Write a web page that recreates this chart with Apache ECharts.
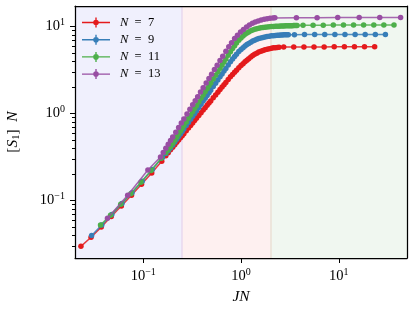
<!DOCTYPE html>
<html><head><meta charset="utf-8">
<script src="https://cdn.jsdelivr.net/npm/echarts@6/dist/echarts.min.js"></script>
<style>html,body{margin:0;padding:0;background:#fff}#c{width:415px;height:312px}</style>
</head><body><div id="c"></div><script>
// ---------- data ----------
const seriesNames = ['N = 7', 'N = 9', 'N = 11', 'N = 13'];
const seriesColors = ['#e41a1c', '#377eb8', '#4daf4a', '#984ea3'];

// shared dense JN grid (N = 7, 9, 11 use the first len(y) entries)
const denseJN = [0.17,0.18,0.19,0.20,0.21,0.22,0.23,0.24,0.25,0.26,0.275,0.29,0.305,0.32,0.335,0.35,
  0.37,0.39,0.41,0.43,0.45,0.47,0.49,0.52,0.55,0.58,0.61,0.64,0.67,0.70,0.74,0.78,0.82,0.86,0.90,
  0.95,1.0,1.05,1.1,1.15,1.2,1.26,1.32,1.38,1.45,1.52,1.6,1.68,1.76,1.85,1.95,2.05,2.15,2.25,2.35,2.45,
  2.55,2.65,2.75,2.85,2.95,3.05,3.15,3.25,3.35,3.45,3.55,3.65,3.75];

// N = 7
const n7LowX = [0.0230,0.0292,0.0371,0.0470,0.0596,0.0757,0.0959,0.122,0.1545];
const n7LowY = [0.0297,0.0378,0.0494,0.0653,0.0865,0.115,0.154,0.207,0.282];
const n7DenseY = [0.327,0.354,0.382,0.409,0.437,0.466,0.496,0.525,0.555,0.586,0.632,0.679,0.728,0.778,0.829,0.880,
  0.948,1.021,1.094,1.166,1.242,1.318,1.395,1.514,1.633,1.757,1.883,2.012,2.143,2.275,2.455,2.636,2.81,2.98,3.15,
  3.36,3.55,3.74,3.93,4.10,4.26,4.46,4.63,4.79,4.94,5.08,5.20,5.31,5.40,5.48,5.56,5.62,5.68,5.71,5.75,5.78];
const n7TailX = [2.735,3.467,4.406,5.585,7.096,8.995,11.43,14.49,18.37,23.33];
const n7TailY = [5.80,5.81,5.82,5.82,5.82,5.83,5.83,5.83,5.83,5.83];

// N = 9
const n9LowX = [0.0296,0.0376,0.0476,0.0605,0.0767,0.0975,0.1236,0.157];
const n9LowY = [0.0396,0.0522,0.0691,0.0920,0.1223,0.166,0.2262,0.3126];
const n9DenseY = [0.347,0.373,0.401,0.434,0.469,0.505,0.544,0.582,0.622,0.663,0.725,0.790,0.858,0.928,1.000,1.073,
  1.174,1.279,1.388,1.496,1.612,1.729,1.850,2.038,2.229,2.429,2.636,2.851,3.072,3.298,3.606,3.926,4.236,4.523,4.809,
  5.144,5.439,5.709,5.955,6.190,6.392,6.609,6.803,6.963,7.120,7.259,7.386,7.490,7.580,7.657,7.727,7.80,7.85,7.89,7.92,7.95,
  7.97,7.99,8.01,8.02,8.03,8.04];
const n9TailX = [3.524,4.467,5.675,7.194,9.141,11.59,14.72,18.66,23.71,30.06];
const n9TailY = [8.06,8.07,8.08,8.08,8.09,8.09,8.09,8.10,8.10,8.10];

// N = 11
const n11LowX = [0.0365,0.0462,0.0587,0.0745,0.0946,0.120,0.1524];
const n11LowY = [0.0522,0.0678,0.0902,0.1198,0.1622,0.2208,0.3062];
const n11DenseY = [0.357,0.386,0.417,0.455,0.495,0.538,0.584,0.628,0.676,0.725,0.800,0.879,0.962,1.049,1.138,1.230,
  1.357,1.492,1.632,1.772,1.923,2.079,2.238,2.490,2.748,3.019,3.304,3.601,3.908,4.226,4.662,5.124,5.588,6.021,6.452,
  6.955,7.391,7.780,8.121,8.426,8.669,8.913,9.127,9.288,9.437,9.561,9.667,9.752,9.825,9.881,9.933,9.977,10.01,10.04,10.07,10.09,
  10.12,10.13,10.15,10.17,10.18,10.20,10.21,10.22,10.23,10.24,10.26,10.26,10.27];
const n11TailX = [4.315,5.470,6.950,8.810,11.19,14.19,17.99,22.86,28.97,36.81];
const n11TailY = [10.33,10.35,10.36,10.37,10.37,10.38,10.38,10.38,10.39,10.39];

// N = 13
const n13LowX = [0.0430,0.0692,0.1114];
const n13LowY = [0.0625,0.1148,0.224];
const n13DenseX = [0.15,0.16,0.17,0.18,0.19,0.20,0.215,0.23,0.245,0.26,0.28,0.30,0.32,0.34,0.36,0.385,0.41,0.44,0.47,0.50,
  0.535,0.57,0.61,0.65,0.70,0.75,0.80,0.86,0.92,0.99,1.06,1.14,1.22,1.31,1.40,1.50,1.61,1.73,1.85,1.98,2.12,2.22];
const n13DenseY = [0.316,0.355,0.398,0.442,0.489,0.536,0.610,0.692,0.775,0.864,0.987,1.119,1.258,1.403,1.557,1.762,1.976,2.245,2.530,2.831,
  3.202,3.594,4.062,4.558,5.19,5.854,6.512,7.261,7.943,8.616,9.24,9.845,10.39,10.90,11.27,11.60,11.87,12.11,12.27,12.42,12.54,12.59];
const n13TailX = [3.69,6.01,9.77,16.2,26.3,43.0];
const n13TailY = [12.62,12.64,12.65,12.65,12.66,12.66];

// axes, regions, ticks
const xLimits = [0.02, 50];
const yLimits = [0.0218, 17.2];
const regionEdges = [0.25, 2];
const xMajorTicks = [0.1, 1, 10];
const yMajorTicks = [0.1, 1, 10];
const yMinorTicks = [0.03,0.04,0.05,0.06,0.07,0.08,0.09,0.2,0.3,0.4,0.5,0.6,0.7,0.8,0.9,2,3,4,5,6,7,8,9];

// ---------- chart ----------
const FONT = 'Liberation Serif';
function zip(xs, ys) { return ys.map((y, i) => [xs[i], y]); }
const seriesData = [
  [].concat(zip(n7LowX, n7LowY), zip(denseJN, n7DenseY), zip(n7TailX, n7TailY)),
  [].concat(zip(n9LowX, n9LowY), zip(denseJN, n9DenseY), zip(n9TailX, n9TailY)),
  [].concat(zip(n11LowX, n11LowY), zip(denseJN, n11DenseY), zip(n11TailX, n11TailY)),
  [].concat(zip(n13LowX, n13LowY), zip(n13DenseX, n13DenseY), zip(n13TailX, n13TailY))
];

function powLabel(v) {
  const l = Math.log10(v), e = Math.round(l);
  if (Math.abs(l - e) > 1e-6) return '';
  return '{b|10}{s|' + (e < 0 ? '\u2212' + (-e) : String(e)) + '}';
}
const tickRich = {
  b: { fontFamily: FONT, fontSize: 14.5, color: '#000' },
  s: { fontFamily: FONT, fontSize: 10, color: '#000', padding: [0, 0, 9, 0] }
};

const series = seriesNames.map((name, i) => ({
  name: name, type: 'line', data: seriesData[i], z: 2 + i,
  symbol: 'circle', symbolSize: 5.5, showSymbol: true,
  lineStyle: { width: 1.5, color: seriesColors[i], opacity: 0.85 },
  itemStyle: { color: seriesColors[i], borderWidth: 0 },
  emphasis: { disabled: true }, animation: false
}));

series[0].markArea = {
  silent: true, z: 1,
  data: [
    [{ xAxis: xLimits[0], yAxis: yLimits[0], itemStyle: { color: 'rgb(240,240,253)' } }, { xAxis: regionEdges[0], yAxis: yLimits[1] }],
    [{ xAxis: regionEdges[0], yAxis: yLimits[0], itemStyle: { color: 'rgb(254,240,240)' } }, { xAxis: regionEdges[1], yAxis: yLimits[1] }],
    [{ xAxis: regionEdges[1], yAxis: yLimits[0], itemStyle: { color: 'rgb(240,247,240)' } }, { xAxis: xLimits[1], yAxis: yLimits[1] }]
  ]
};
series[0].markLine = {
  silent: true, z: 1, symbol: ['none', 'none'], label: { show: false },
  data: [
    { xAxis: regionEdges[0], lineStyle: { color: '#e8d8ee', width: 1.5, type: 'solid' } },
    { xAxis: regionEdges[1], lineStyle: { color: '#ebe1d6', width: 1.5, type: 'solid' } }
  ]
};

const axisLineStyle = { show: true, lineStyle: { color: '#000', width: 1.25 } };
const nameFont = { fontFamily: FONT, fontSize: 15.5, color: '#000' };
const chart = echarts.init(document.getElementById('c'), null, { renderer: 'canvas' });
chart.setOption({
  animation: false,
  grid: { left: 75, right: 8, top: 6, bottom: 54, show: false, outerBoundsMode: 'none' },
  legend: {
    data: seriesNames, orient: 'vertical', left: 77, top: 11,
    itemWidth: 28, itemHeight: 10, itemGap: 4.2,
    icon: 'path://M0 4.3H28V5.7H0Z M13.3 0H14.7V10H13.3Z M16.8 5A2.8 2.8 0 1 1 11.2 5A2.8 2.8 0 1 1 16.8 5Z',
    formatter: n => '{i|N}\u2002=\u2002' + n.split('= ')[1],
    textStyle: {
      fontFamily: FONT, fontSize: 12.5, color: '#000', padding: [0, 0, 0, 5],
      rich: { i: { fontFamily: FONT, fontSize: 12.5, fontStyle: 'italic', color: '#000' } }
    },
    selectedMode: false
  },
  xAxis: [{
    type: 'log', logBase: 10, min: xLimits[0], max: xLimits[1], z: 10,
    axisLine: axisLineStyle, axisTick: { show: false }, splitLine: { show: false }, minorTick: { show: false },
    axisLabel: { margin: 9, formatter: powLabel, rich: tickRich, showMinLabel: false, showMaxLabel: false, color: '#000' },
    name: 'JN', nameLocation: 'middle', nameGap: 30,
    nameTextStyle: Object.assign({ fontStyle: 'italic' }, nameFont)
  }, {
    type: 'log', logBase: 10, min: xLimits[0], max: xLimits[1], position: 'top', z: 10,
    axisLine: axisLineStyle, axisTick: { show: false }, axisLabel: { show: false }, splitLine: { show: false }
  }],
  yAxis: [{
    type: 'log', logBase: 10, min: yLimits[0], max: yLimits[1], z: 10,
    axisLine: axisLineStyle, axisTick: { show: false }, splitLine: { show: false }, minorTick: { show: false },
    axisLabel: { margin: 10, formatter: powLabel, rich: tickRich, showMinLabel: false, showMaxLabel: false, color: '#000' },
    name: '{t|[}{i|S}{u|1}{t|]\u2002}{i|N}', nameLocation: 'middle', nameGap: 53, nameRotate: 90,
    nameTextStyle: Object.assign({
      rich: {
        t: Object.assign({}, nameFont),
        i: Object.assign({ fontStyle: 'italic' }, nameFont),
        u: { fontFamily: FONT, fontSize: 10.5, color: '#000', padding: [7, 0, 0, 0] }
      }
    }, nameFont)
  }, {
    type: 'log', logBase: 10, min: yLimits[0], max: yLimits[1], position: 'right', z: 10,
    axisLine: axisLineStyle, axisTick: { show: false }, axisLabel: { show: false }, splitLine: { show: false }
  }],
  series: series
});

// tick marks (placed through the chart's own axis scales)
function tickLines() {
  const out = [];
  const add = (x1, y1, x2, y2) => out.push({
    type: 'line', silent: true, z: 20,
    shape: { x1: x1, y1: y1, x2: x2, y2: y2 },
    style: { stroke: '#000', lineWidth: 1 }
  });
  yMajorTicks.forEach(v => { const p = chart.convertToPixel({ gridIndex: 0 }, [xLimits[0], v]); const y = Math.round(p[1]) + 0.5; add(p[0] - 5, y, p[0], y); });
  yMinorTicks.forEach(v => { const p = chart.convertToPixel({ gridIndex: 0 }, [xLimits[0], v]); const y = Math.round(p[1]) + 0.5; add(p[0] - 3, y, p[0], y); });
  xMajorTicks.forEach(v => { const p = chart.convertToPixel({ gridIndex: 0 }, [v, yLimits[0]]); const x = Math.round(p[0]) + 0.5; add(x, p[1], x, p[1] + 5); });
  return out;
}
chart.setOption({ graphic: { elements: tickLines() } });
</script></body></html>
